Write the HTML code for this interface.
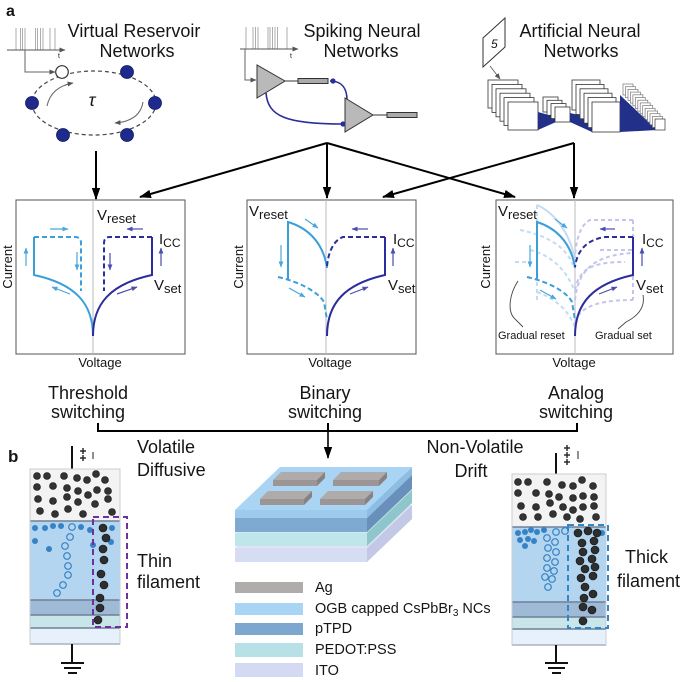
<!DOCTYPE html>
<html><head><meta charset="utf-8">
<style>
html,body{margin:0;padding:0;background:#fff;}
svg{display:block;}
text{font-family:"Liberation Sans",Arial,sans-serif;fill:#151515;}
</style></head><body>
<svg width="684" height="682" viewBox="0 0 684 682" xmlns="http://www.w3.org/2000/svg">
<defs>
<marker id="ak" markerUnits="userSpaceOnUse" markerWidth="12" markerHeight="10" refX="11" refY="5" orient="auto"><path d="M0,0.8 L12,5 L0,9.2 z" fill="#000"/></marker>
<marker id="ag" markerUnits="userSpaceOnUse" markerWidth="6" markerHeight="6" refX="5.5" refY="3" orient="auto"><path d="M0,0.5 L6,3 L0,5.5 z" fill="#555"/></marker>
<marker id="ab" markerUnits="userSpaceOnUse" markerWidth="6" markerHeight="6" refX="5.5" refY="3" orient="auto"><path d="M0,0.6 L6,3 L0,5.4 z" fill="#4aa6dc"/></marker>
<marker id="an" markerUnits="userSpaceOnUse" markerWidth="6" markerHeight="6" refX="5.5" refY="3" orient="auto"><path d="M0,0.6 L6,3 L0,5.4 z" fill="#4a4cb0"/></marker>
</defs>

<!-- ===== panel a label ===== -->
<text x="6" y="16" font-size="16" font-weight="bold">a</text>

<!-- ===== VRN ===== -->
<g stroke="#777" stroke-width="0.6">
<line x1="16" y1="28" x2="16" y2="50"/><line x1="20.5" y1="28" x2="20.5" y2="50"/><line x1="22.5" y1="28" x2="22.5" y2="50"/><line x1="25" y1="28" x2="25" y2="50"/>
<line x1="35.5" y1="28" x2="35.5" y2="50"/><line x1="37.5" y1="28" x2="37.5" y2="50"/><line x1="40.5" y1="28" x2="40.5" y2="50"/><line x1="43" y1="28" x2="43" y2="50"/>
<line x1="50" y1="28" x2="50" y2="50"/><line x1="55" y1="28" x2="55" y2="50"/>
</g>
<line x1="7" y1="50" x2="65" y2="50" stroke="#555" stroke-width="1" marker-end="url(#ag)"/>
<text x="58" y="58" font-size="7">t</text>
<path d="M25,50 L25,72 L55,72" fill="none" stroke="#666" stroke-width="1" marker-end="url(#ag)"/>
<text x="134" y="37" font-size="18" text-anchor="middle">Virtual Reservoir</text>
<text x="137" y="57" font-size="18" text-anchor="middle">Networks</text>
<ellipse cx="94" cy="103" rx="62" ry="32" fill="none" stroke="#444" stroke-width="1.2" stroke-dasharray="4 3"/>
<path d="M47,106 Q51,87 73,83" fill="none" stroke="#666" stroke-width="1" marker-end="url(#ag)"/>
<path d="M143,102 Q140,121 115,123" fill="none" stroke="#666" stroke-width="1" marker-end="url(#ag)"/>
<text x="92" y="106" font-size="18" font-style="italic" font-family="Liberation Serif, serif" text-anchor="middle">τ</text>
<g fill="#1e2b8c" stroke="#111a60" stroke-width="0.8">
<circle cx="127" cy="72" r="6.5"/><circle cx="32" cy="103" r="6.5"/><circle cx="155" cy="103" r="6.5"/><circle cx="63" cy="135" r="6.5"/><circle cx="127" cy="135" r="6.5"/>
</g>
<circle cx="62" cy="72" r="6.3" fill="#fff" stroke="#333" stroke-width="1.2"/>

<!-- ===== SNN ===== -->
<g stroke="#777" stroke-width="0.6">
<line x1="246" y1="27" x2="246" y2="49"/><line x1="253" y1="27" x2="253" y2="49"/><line x1="255.5" y1="27" x2="255.5" y2="49"/><line x1="258" y1="27" x2="258" y2="49"/>
<line x1="268" y1="27" x2="268" y2="49"/><line x1="270" y1="27" x2="270" y2="49"/><line x1="272.5" y1="27" x2="272.5" y2="49"/><line x1="275" y1="27" x2="275" y2="49"/><line x1="277.5" y1="27" x2="277.5" y2="49"/>
<line x1="287" y1="27" x2="287" y2="49"/>
</g>
<line x1="240" y1="49" x2="298" y2="49" stroke="#555" stroke-width="1" marker-end="url(#ag)"/>
<text x="290" y="58" font-size="7">t</text>
<path d="M245,49 L245,80 L256,80" fill="none" stroke="#666" stroke-width="1" marker-end="url(#ag)"/>
<text x="362" y="37" font-size="18" text-anchor="middle">Spiking Neural</text>
<text x="361" y="57" font-size="18" text-anchor="middle">Networks</text>
<path d="M330,81 C343,81 347,90 347,100" fill="none" stroke="#2a2f9a" stroke-width="1.6"/>
<path d="M266,93 C268,116 285,124 343,124" fill="none" stroke="#2a2f9a" stroke-width="1.6"/>
<polygon points="257,65 257,98 285,81" fill="#b9b9b9" stroke="#333" stroke-width="1"/>
<line x1="285" y1="81" x2="298" y2="81" stroke="#333" stroke-width="1"/>
<rect x="298" y="78.5" width="30" height="5" fill="#aaa" stroke="#333" stroke-width="1"/>
<polygon points="345,98 345,132 373,115" fill="#b9b9b9" stroke="#333" stroke-width="1"/>
<line x1="373" y1="115" x2="387" y2="115" stroke="#333" stroke-width="1"/>
<rect x="387" y="112.5" width="30" height="5" fill="#aaa" stroke="#333" stroke-width="1"/>
<circle cx="333" cy="81" r="2.6" fill="#2a2f9a"/>
<circle cx="343" cy="124" r="2.6" fill="#2a2f9a"/>

<!-- ===== ANN ===== -->
<text x="580" y="37" font-size="18" text-anchor="middle">Artificial Neural</text>
<text x="581" y="57" font-size="18" text-anchor="middle">Networks</text>
<polygon points="483,38 505,18 505,47 483,67" fill="#fff" stroke="#333" stroke-width="1"/>
<text x="491" y="48" font-size="12" font-style="italic" font-family="Liberation Serif, serif">5</text>
<line x1="490" y1="66" x2="500" y2="79" stroke="#555" stroke-width="0.8" marker-end="url(#ag)"/>
<g fill="#fff" stroke="#333" stroke-width="0.8">
<rect x="488" y="80" width="30" height="28"/><rect x="492" y="84.4" width="30" height="28"/><rect x="496" y="88.8" width="30" height="28"/><rect x="500" y="93.2" width="30" height="28"/><rect x="504" y="97.6" width="30" height="28"/><rect x="508" y="102" width="30" height="28"/>
</g>
<polygon points="538,112 556,117 556,122 538,130" fill="#22308a"/>
<g fill="#fff" stroke="#333" stroke-width="0.8">
<rect x="543" y="97" width="15" height="15"/><rect x="547" y="100.3" width="15" height="15"/><rect x="551" y="103.6" width="15" height="15"/><rect x="555" y="107" width="15" height="15"/>
</g>
<polygon points="570,113 592,118 592,132 570,122" fill="#22308a"/>
<g fill="#fff" stroke="#333" stroke-width="0.8">
<rect x="572" y="80" width="28" height="30"/><rect x="576" y="84.4" width="28" height="30"/><rect x="580" y="88.8" width="28" height="30"/><rect x="584" y="93.2" width="28" height="30"/><rect x="588" y="97.6" width="28" height="30"/><rect x="592" y="102" width="28" height="30"/>
</g>
<polygon points="620,95 657,130 620,132" fill="#22308a"/>
<g fill="#fff" stroke="#777" stroke-width="0.7">
<rect x="623" y="84" width="10" height="11"/><rect x="625.5" y="86.7" width="10" height="11"/><rect x="628" y="89.4" width="10" height="11"/><rect x="630.4" y="92.1" width="10" height="11"/><rect x="632.9" y="94.8" width="10" height="11"/><rect x="635.3" y="97.5" width="10" height="11"/><rect x="637.8" y="100.2" width="10" height="11"/><rect x="640.2" y="102.9" width="10" height="11"/><rect x="642.7" y="105.6" width="10" height="11"/><rect x="645.1" y="108.3" width="10" height="11"/><rect x="647.6" y="111" width="10" height="11"/><rect x="650" y="113.7" width="10" height="11"/><rect x="652.5" y="116.4" width="10" height="11"/><rect x="655" y="119" width="10" height="11" stroke="#333"/>
</g>

<!-- ===== connectors top ===== -->
<g stroke="#000" stroke-width="2" fill="none">
<line x1="96" y1="151" x2="96" y2="199" marker-end="url(#ak)"/>
<line x1="327" y1="143" x2="140" y2="197" marker-end="url(#ak)"/>
<line x1="327" y1="143" x2="327" y2="198" marker-end="url(#ak)"/>
<line x1="327" y1="143" x2="515" y2="197" marker-end="url(#ak)"/>
<line x1="574" y1="143" x2="383" y2="197" marker-end="url(#ak)"/>
<line x1="574" y1="143" x2="574" y2="198" marker-end="url(#ak)"/>
</g>

<!-- ===== IV panel 1 ===== -->
<rect x="16" y="200" width="169" height="154" fill="#fff" stroke="#555" stroke-width="1"/>
<line x1="93" y1="200" x2="93" y2="354" stroke="#bbb" stroke-width="1"/>
<g fill="none" stroke-width="2">
<path d="M93,336 C93,304 76,284 34,275 L34,237" stroke="#3a9fd9"/>
<path d="M34,237 L75,237 Q81,237 81,243 L81,291" stroke="#3a9fd9" stroke-dasharray="5 3"/>
<path d="M93,336 C93,304 110,284 152,275 L152,237" stroke="#2b2d9c"/>
<path d="M152,237 L110,237 Q104,237 104,243 L104,291" stroke="#2b2d9c" stroke-dasharray="5 3"/>
</g>
<g fill="none" stroke-width="1.2">
<line x1="50" y1="229" x2="68" y2="229" stroke="#4aa6dc" marker-end="url(#ab)"/>
<line x1="26" y1="266" x2="26" y2="248" stroke="#4aa6dc" marker-end="url(#ab)"/>
<line x1="77" y1="252" x2="77" y2="270" stroke="#4aa6dc" marker-end="url(#ab)"/>
<line x1="70" y1="294" x2="52" y2="287" stroke="#4aa6dc" marker-end="url(#ab)"/>
<line x1="143" y1="229" x2="127" y2="229" stroke="#4a4cb0" marker-end="url(#an)"/>
<line x1="110" y1="253" x2="110" y2="270" stroke="#4a4cb0" marker-end="url(#an)"/>
<line x1="161" y1="266" x2="161" y2="248" stroke="#4a4cb0" marker-end="url(#an)"/>
<line x1="117" y1="294" x2="137" y2="287" stroke="#4a4cb0" marker-end="url(#an)"/>
</g>
<text x="97" y="220" font-size="15">V<tspan font-size="13" dy="3">reset</tspan></text>
<text x="159" y="244" font-size="15">I<tspan font-size="12" dy="3">CC</tspan></text>
<text x="154" y="290" font-size="15">V<tspan font-size="13" dy="3">set</tspan></text>
<text transform="translate(12,267) rotate(-90)" font-size="13" text-anchor="middle">Current</text>
<text x="100" y="367" font-size="13" text-anchor="middle">Voltage</text>

<!-- ===== IV panel 2 ===== -->
<rect x="247" y="200" width="169" height="154" fill="#fff" stroke="#555" stroke-width="1"/>
<line x1="326" y1="200" x2="326" y2="354" stroke="#bbb" stroke-width="1"/>
<g fill="none" stroke-width="2">
<path d="M327,268 C323,240 305,227 288,222 L288,280" stroke="#3a9fd9"/>
<path d="M278,277 C300,282 318,292 324,302 L327,320" stroke="#3a9fd9" stroke-dasharray="5 3"/>
<path d="M327,336 C327,303 345,284 385,275 L385,237" stroke="#2b2d9c"/>
<path d="M385,237 L343,237 C334,240 328,252 327,267" stroke="#2b2d9c" stroke-dasharray="5 3"/>
</g>
<g fill="none" stroke-width="1.2">
<line x1="305" y1="219" x2="318" y2="228" stroke="#4aa6dc" marker-end="url(#ab)"/>
<line x1="281" y1="245" x2="281" y2="267" stroke="#4aa6dc" marker-end="url(#ab)"/>
<line x1="289" y1="288" x2="305" y2="297" stroke="#4aa6dc" marker-end="url(#ab)"/>
<line x1="368" y1="229" x2="352" y2="229" stroke="#4a4cb0" marker-end="url(#an)"/>
<line x1="393" y1="266" x2="393" y2="248" stroke="#4a4cb0" marker-end="url(#an)"/>
<line x1="350" y1="294" x2="368" y2="287" stroke="#4a4cb0" marker-end="url(#an)"/>
</g>
<text x="249" y="216" font-size="15">V<tspan font-size="13" dy="3">reset</tspan></text>
<text x="393" y="244" font-size="15">I<tspan font-size="12" dy="3">CC</tspan></text>
<text x="388" y="290" font-size="15">V<tspan font-size="13" dy="3">set</tspan></text>
<text transform="translate(243,267) rotate(-90)" font-size="13" text-anchor="middle">Current</text>
<text x="330" y="367" font-size="13" text-anchor="middle">Voltage</text>

<!-- ===== IV panel 3 ===== -->
<rect x="496" y="200" width="177" height="154" fill="#fff" stroke="#555" stroke-width="1"/>
<line x1="575" y1="200" x2="575" y2="354" stroke="#bbb" stroke-width="1"/>
<g fill="none" stroke-width="2" stroke="#c3dcf1">
<path d="M575,262 C571,232 553,212 537,205"/>
<path d="M537,205 L537,222" stroke-dasharray="4 3"/>
<path d="M520,230 C545,235 565,245 573,265" stroke-dasharray="4 3"/>
<path d="M530,250 Q562,258 575,292" stroke-dasharray="4 3"/>
<path d="M537,282 L537,302" stroke-dasharray="4 3"/>
<path d="M537,292 Q565,302 575,327" stroke-dasharray="4 3"/>
<path d="M515,262 L528,262" stroke-dasharray="4 3"/>
</g>
<g fill="none" stroke-width="2" stroke="#c4c4ec" stroke-dasharray="4 3">
<path d="M633,220 L590,220 C580,225 576,240 575,258"/>
<path d="M633,220 L633,300"/>
<path d="M575,300 C578,272 592,255 633,253"/>
<path d="M575,322 C580,306 600,300 633,300"/>
<path d="M575,290 C579,270 590,262 625,262"/>
<path d="M600,250 L633,250"/>
</g>
<g fill="none" stroke-width="2">
<path d="M575,268 C571,240 553,227 537,222 L537,280" stroke="#3a9fd9"/>
<path d="M527,277 C549,282 567,292 572,302 L575,320" stroke="#3a9fd9" stroke-dasharray="5 3"/>
<path d="M575,336 C575,303 593,284 633,275 L633,237" stroke="#2b2d9c"/>
<path d="M633,237 L605,237 C585,240 577,252 575,267" stroke="#2b2d9c" stroke-dasharray="5 3"/>
</g>
<g fill="none" stroke-width="1.2">
<line x1="555" y1="219" x2="567" y2="228" stroke="#4aa6dc" marker-end="url(#ab)"/>
<line x1="530" y1="245" x2="530" y2="267" stroke="#4aa6dc" marker-end="url(#ab)"/>
<line x1="540" y1="290" x2="556" y2="299" stroke="#4aa6dc" marker-end="url(#ab)"/>
<line x1="615" y1="229" x2="600" y2="229" stroke="#4a4cb0" marker-end="url(#an)"/>
<line x1="642" y1="266" x2="642" y2="248" stroke="#4a4cb0" marker-end="url(#an)"/>
<line x1="599" y1="294" x2="617" y2="287" stroke="#4a4cb0" marker-end="url(#an)"/>
</g>
<path d="M518,281 C510,293 507,310 514,318 L523,327" fill="none" stroke="#444" stroke-width="0.9"/>
<path d="M643,295 C645,306 640,315 626,322 L618,329" fill="none" stroke="#444" stroke-width="0.9"/>
<text x="498" y="216" font-size="15">V<tspan font-size="13" dy="3">reset</tspan></text>
<text x="642" y="244" font-size="15">I<tspan font-size="12" dy="3">CC</tspan></text>
<text x="636" y="290" font-size="15">V<tspan font-size="13" dy="3">set</tspan></text>
<text x="498" y="339" font-size="11">Gradual reset</text>
<text x="595" y="339" font-size="11">Gradual set</text>
<text transform="translate(490,267) rotate(-90)" font-size="13" text-anchor="middle">Current</text>
<text x="574" y="367" font-size="13" text-anchor="middle">Voltage</text>

<!-- ===== switching labels & bracket ===== -->
<text x="88" y="399" font-size="18" text-anchor="middle">Threshold</text>
<text x="88" y="418" font-size="18" text-anchor="middle">switching</text>
<text x="325" y="399" font-size="18" text-anchor="middle">Binary</text>
<text x="325" y="418" font-size="18" text-anchor="middle">switching</text>
<text x="576" y="399" font-size="18" text-anchor="middle">Analog</text>
<text x="576" y="418" font-size="18" text-anchor="middle">switching</text>
<path d="M98,423 L98,431 L577,431 L577,423" fill="none" stroke="#000" stroke-width="2"/>
<line x1="328" y1="423" x2="328" y2="431" stroke="#000" stroke-width="2"/>
<line x1="328" y1="431" x2="328" y2="458" stroke="#000" stroke-width="1.6" marker-end="url(#ak)"/>

<text x="8" y="462" font-size="17" font-weight="bold">b</text>
<text x="137" y="453" font-size="18">Volatile</text>
<text x="137" y="476" font-size="18">Diffusive</text>
<text x="475" y="453" font-size="18" text-anchor="middle">Non-Volatile</text>
<text x="471" y="477" font-size="18" text-anchor="middle">Drift</text>

<!-- ===== left device ===== -->
<line x1="72" y1="446" x2="72" y2="469" stroke="#111" stroke-width="2"/>
<g stroke="#222" stroke-width="1.4">
<line x1="80" y1="451" x2="86" y2="451"/><line x1="83" y1="448" x2="83" y2="454"/>
<line x1="80" y1="458" x2="86" y2="458"/><line x1="83" y1="455" x2="83" y2="461"/>
<line x1="93" y1="452" x2="93" y2="459" stroke-width="1"/>
</g>
<rect x="30" y="469" width="90" height="52" fill="#f3f3f3" stroke="#d0d0d0" stroke-width="1"/>
<rect x="30" y="521" width="90" height="79" fill="#b4d5ef"/>
<rect x="30" y="600" width="90" height="15" fill="#9fbad7"/>
<rect x="30" y="615" width="90" height="13" fill="#c8e5ea"/>
<rect x="30" y="628" width="90" height="16" fill="#e6f1fb"/>
<g stroke="#6f8096" stroke-width="1.5">
<line x1="30" y1="521" x2="120" y2="521"/><line x1="30" y1="600" x2="120" y2="600"/><line x1="30" y1="615" x2="120" y2="615"/><line x1="30" y1="628" x2="120" y2="628"/><line x1="30" y1="644" x2="120" y2="644"/>
</g>
<rect x="30" y="469" width="90" height="175" fill="none" stroke="#c8cdd3" stroke-width="1"/>
<g fill="#333" stroke="#111" stroke-width="0.6">
<circle cx="37" cy="476" r="3.5"/><circle cx="47" cy="476" r="3.5"/><circle cx="64" cy="476" r="3.5"/><circle cx="77" cy="478" r="3.5"/><circle cx="87" cy="480" r="3.5"/><circle cx="96" cy="474" r="3.5"/><circle cx="105" cy="480" r="3.5"/>
<circle cx="37" cy="487" r="3.5"/><circle cx="53" cy="486" r="3.5"/><circle cx="67" cy="488" r="3.5"/><circle cx="78" cy="491" r="3.5"/><circle cx="88" cy="495" r="3.5"/><circle cx="97" cy="490" r="3.5"/><circle cx="108" cy="491" r="3.5"/>
<circle cx="38" cy="499" r="3.5"/><circle cx="53" cy="501" r="3.5"/><circle cx="67" cy="497" r="3.5"/><circle cx="78" cy="502" r="3.5"/><circle cx="95" cy="504" r="3.5"/><circle cx="108" cy="499" r="3.5"/>
<circle cx="40" cy="511" r="3.5"/><circle cx="55" cy="514" r="3.5"/><circle cx="68" cy="509" r="3.5"/><circle cx="83" cy="514" r="3.5"/><circle cx="112" cy="512" r="3.5"/>
</g>
<g fill="#3583c6">
<circle cx="35" cy="528" r="3"/><circle cx="45" cy="528" r="3"/><circle cx="53" cy="526" r="3"/><circle cx="61" cy="526" r="3"/><circle cx="81" cy="527" r="3"/><circle cx="90" cy="530" r="3"/><circle cx="112" cy="528" r="3"/><circle cx="35" cy="541" r="3"/><circle cx="49" cy="549" r="3"/><circle cx="93" cy="545" r="3"/><circle cx="111" cy="542" r="3"/>
</g>
<g fill="none" stroke="#3583c6" stroke-width="1.2">
<circle cx="72" cy="527" r="3.3"/><circle cx="70" cy="537" r="3.3"/><circle cx="65" cy="546" r="3.3"/><circle cx="67" cy="556" r="3.3"/><circle cx="68" cy="566" r="3.3"/><circle cx="68" cy="575" r="3.3"/><circle cx="63" cy="585" r="3.3"/><circle cx="57" cy="593" r="3.3"/>
</g>
<g fill="#2e2e2e" stroke="#111" stroke-width="0.6">
<circle cx="103" cy="528" r="4"/><circle cx="106" cy="538" r="4"/><circle cx="103" cy="549" r="4"/><circle cx="104" cy="560" r="4"/><circle cx="101" cy="574" r="4"/><circle cx="104" cy="585" r="4"/><circle cx="100" cy="598" r="4"/><circle cx="100" cy="608" r="4"/><circle cx="98" cy="620" r="4"/>
</g>
<rect x="93" y="517" width="34" height="110" fill="none" stroke="#6f2fa0" stroke-width="2" stroke-dasharray="6 4"/>
<text x="137" y="567" font-size="18">Thin</text>
<text x="137" y="588" font-size="18">filament</text>
<line x1="72" y1="644" x2="72" y2="663" stroke="#111" stroke-width="2"/>
<g stroke="#111" stroke-width="2">
<line x1="61" y1="663" x2="84" y2="663"/><line x1="64" y1="668" x2="81" y2="668"/><line x1="68" y1="673" x2="77" y2="673"/>
</g>

<!-- ===== center 3D stack ===== -->
<polygon points="235,548 367,548 412,505 280,505" fill="#dfe3f5"/>
<polygon points="367,548 412,505 412,519 367,562" fill="#c2c8e6"/>
<rect x="235" y="548" width="132" height="14" fill="#d6dcf2"/>
<polygon points="235,533 367,533 412,490 280,490" fill="#cdeef1"/>
<polygon points="367,533 412,490 412,503 367,546" fill="#8fc6cc"/>
<rect x="235" y="533" width="132" height="13" fill="#bfe6ea"/>
<polygon points="235,518 367,518 412,475 280,475" fill="#8fb6da"/>
<polygon points="367,518 412,475 412,489 367,532" fill="#6890bb"/>
<rect x="235" y="518" width="132" height="14" fill="#7ea9d1"/>
<polygon points="367,510 412,467 412,475 367,518" fill="#8dbde2"/>
<rect x="235" y="510" width="132" height="8" fill="#9ccbee"/>
<polygon points="235,510 367,510 412,467 280,467" fill="#aad4f3"/>
<g>
<polygon points="281,472 325,472 317,480 273,480" fill="#b0abab"/><rect x="273" y="480" width="44" height="6" fill="#9b9595"/><polygon points="317,480 325,472 325,478 317,486" fill="#878181"/>
<polygon points="341,472 387,472 379,480 333,480" fill="#b0abab"/><rect x="333" y="480" width="46" height="6" fill="#9b9595"/><polygon points="379,480 387,472 387,478 379,486" fill="#878181"/>
<polygon points="268,491 312,491 304,499 260,499" fill="#b0abab"/><rect x="260" y="499" width="44" height="6" fill="#9b9595"/><polygon points="304,499 312,491 312,497 304,505" fill="#878181"/>
<polygon points="328,491 373,491 365,499 320,499" fill="#b0abab"/><rect x="320" y="499" width="45" height="6" fill="#9b9595"/><polygon points="365,499 373,491 373,497 365,505" fill="#878181"/>
</g>

<!-- legend -->
<rect x="235" y="582" width="68" height="11" fill="#b1acac"/>
<rect x="235" y="603" width="68" height="12" fill="#a9d5f5"/>
<rect x="235" y="623" width="68" height="12" fill="#7ea7cf"/>
<rect x="235" y="643" width="68" height="14" fill="#b7e1e6"/>
<rect x="235" y="663" width="68" height="14" fill="#d3daf2"/>
<text x="315" y="592" font-size="14.5">Ag</text>
<text x="315" y="613" font-size="14.5">OGB capped CsPbBr<tspan font-size="10" dy="3">3</tspan><tspan dy="-3"> NCs</tspan></text>
<text x="315" y="633" font-size="14.5">pTPD</text>
<text x="315" y="654" font-size="14.5">PEDOT:PSS</text>
<text x="315" y="675" font-size="14.5">ITO</text>

<!-- ===== right device ===== -->
<line x1="556" y1="453" x2="556" y2="474" stroke="#111" stroke-width="2"/>
<g stroke="#222" stroke-width="1.4">
<line x1="564" y1="448" x2="570" y2="448"/><line x1="567" y1="445" x2="567" y2="451"/>
<line x1="564" y1="455" x2="570" y2="455"/><line x1="567" y1="452" x2="567" y2="458"/>
<line x1="564" y1="462" x2="570" y2="462"/><line x1="567" y1="459" x2="567" y2="465"/>
<line x1="578" y1="451" x2="578" y2="459" stroke-width="1"/>
</g>
<rect x="512" y="474" width="94" height="53" fill="#f3f3f3"/>
<rect x="512" y="527" width="94" height="75" fill="#b4d5ef"/>
<rect x="512" y="602" width="94" height="15" fill="#9fbad7"/>
<rect x="512" y="617" width="94" height="12" fill="#c8e5ea"/>
<rect x="512" y="629" width="94" height="16" fill="#e6f1fb"/>
<g stroke="#6f8096" stroke-width="1.5">
<line x1="512" y1="527" x2="606" y2="527"/><line x1="512" y1="602" x2="606" y2="602"/><line x1="512" y1="617" x2="606" y2="617"/><line x1="512" y1="629" x2="606" y2="629"/><line x1="512" y1="645" x2="606" y2="645"/>
</g>
<rect x="512" y="474" width="94" height="171" fill="none" stroke="#c8cdd3" stroke-width="1"/>
<g fill="#333" stroke="#111" stroke-width="0.6">
<circle cx="518" cy="482" r="3.5"/><circle cx="528" cy="482" r="3.5"/><circle cx="547" cy="482" r="3.5"/><circle cx="562" cy="485" r="3.5"/><circle cx="573" cy="486" r="3.5"/><circle cx="582" cy="480" r="3.5"/><circle cx="593" cy="486" r="3.5"/>
<circle cx="518" cy="493" r="3.5"/><circle cx="536" cy="493" r="3.5"/><circle cx="549" cy="494" r="3.5"/><circle cx="559" cy="497" r="3.5"/><circle cx="573" cy="498" r="3.5"/><circle cx="583" cy="496" r="3.5"/><circle cx="594" cy="497" r="3.5"/>
<circle cx="521" cy="506" r="3.5"/><circle cx="536" cy="507" r="3.5"/><circle cx="550" cy="503" r="3.5"/><circle cx="563" cy="507" r="3.5"/><circle cx="573" cy="510" r="3.5"/><circle cx="583" cy="507" r="3.5"/><circle cx="594" cy="506" r="3.5"/>
<circle cx="523" cy="517" r="3.5"/><circle cx="538" cy="517" r="3.5"/><circle cx="553" cy="514" r="3.5"/><circle cx="567" cy="517" r="3.5"/><circle cx="580" cy="519" r="3.5"/><circle cx="596" cy="517" r="3.5"/>
</g>
<g fill="#3583c6">
<circle cx="518" cy="533" r="3"/><circle cx="525" cy="532" r="3"/><circle cx="531" cy="530" r="3"/><circle cx="537" cy="532" r="3"/><circle cx="544" cy="530" r="3"/><circle cx="520" cy="540" r="3"/><circle cx="528" cy="539" r="3"/><circle cx="525" cy="546" r="3"/><circle cx="534" cy="541" r="3"/><circle cx="602" cy="533" r="3"/>
</g>
<g fill="none" stroke="#3583c6" stroke-width="1.2">
<circle cx="556" cy="532" r="3.3"/><circle cx="565" cy="531" r="3.3"/><circle cx="547" cy="538" r="3.3"/><circle cx="555" cy="542" r="3.3"/><circle cx="548" cy="548" r="3.3"/><circle cx="556" cy="552" r="3.3"/><circle cx="547" cy="558" r="3.3"/><circle cx="555" cy="562" r="3.3"/><circle cx="547" cy="568" r="3.3"/><circle cx="554" cy="571" r="3.3"/><circle cx="545" cy="577" r="3.3"/><circle cx="552" cy="579" r="3.3"/><circle cx="548" cy="587" r="3.3"/>
</g>
<g fill="#2e2e2e" stroke="#111" stroke-width="0.6">
<circle cx="578" cy="533" r="4"/><circle cx="588" cy="531" r="4"/><circle cx="597" cy="533" r="4"/><circle cx="582" cy="543" r="4"/><circle cx="594" cy="541" r="4"/><circle cx="583" cy="552" r="4"/><circle cx="595" cy="550" r="4"/><circle cx="580" cy="561" r="4"/><circle cx="592" cy="559" r="4"/><circle cx="585" cy="569" r="4"/><circle cx="595" cy="567" r="4"/><circle cx="581" cy="578" r="4"/><circle cx="593" cy="576" r="4"/><circle cx="585" cy="587" r="4"/><circle cx="593" cy="594" r="4"/><circle cx="584" cy="598" r="4"/><circle cx="583" cy="607" r="4"/><circle cx="592" cy="610" r="4"/><circle cx="583" cy="621" r="4"/>
</g>
<rect x="568" y="525" width="40" height="103" fill="none" stroke="#2e87c9" stroke-width="2" stroke-dasharray="6 4"/>
<text x="625" y="563" font-size="18">Thick</text>
<text x="617" y="587" font-size="18">filament</text>
<line x1="556" y1="645" x2="556" y2="663" stroke="#111" stroke-width="2"/>
<g stroke="#111" stroke-width="2">
<line x1="545" y1="663" x2="568" y2="663"/><line x1="548" y1="668" x2="565" y2="668"/><line x1="552" y1="673" x2="561" y2="673"/>
</g>
</svg>
</body></html>
